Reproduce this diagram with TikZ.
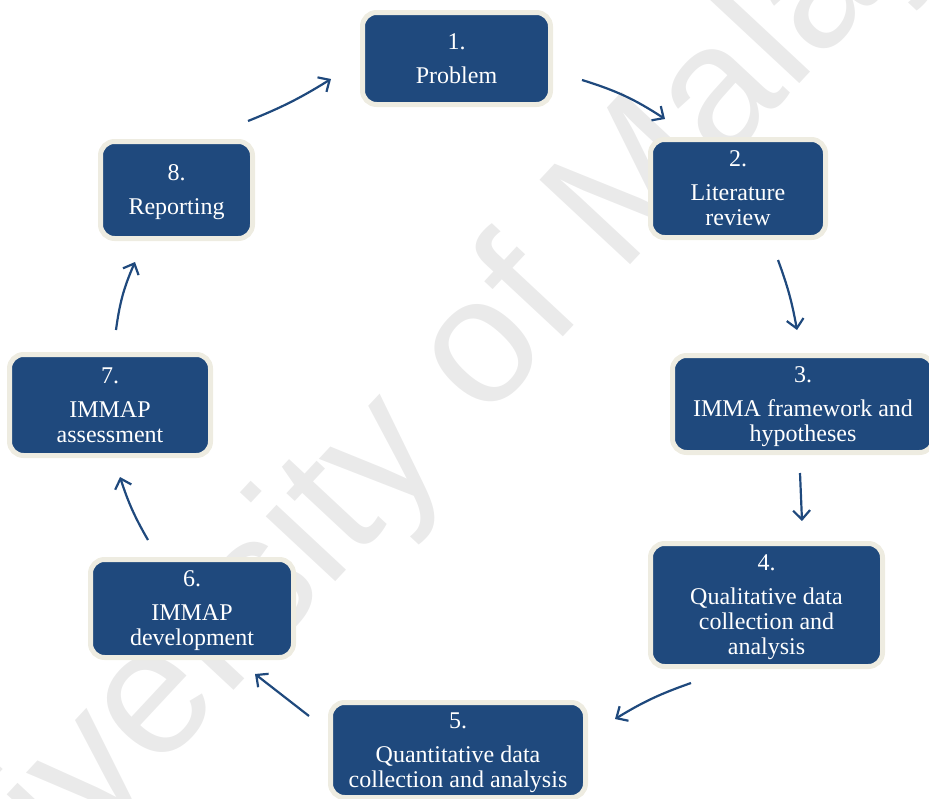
\documentclass[tikz,border=0pt]{standalone}
\usepackage{fontspec}
\setmainfont{Liberation Serif}
\newfontfamily\wmfont{Liberation Sans}
\usetikzlibrary{arrows.meta}
\definecolor{boxblue}{HTML}{1F497D}
\definecolor{boxrim}{HTML}{EEECE1}
\definecolor{wmgray}{HTML}{EAEAEA}
\begin{document}
\begin{tikzpicture}[x=1pt,y=-1pt,
  stage/.style={fill=boxblue, draw=boxrim, line width=5pt, rounded corners=14pt,
    text=white, align=center, inner sep=0pt, text depth=0pt,
    font=\fontsize{24}{25}\selectfont},
  flow/.style={draw=boxblue, line width=2.2pt,
    -{Straight Barb[length=9pt,width=17pt]}}]
\useasboundingbox (0,0) rectangle (929,798);
\clip (0,0) rectangle (929,798);

% watermark
\node[rotate=47, text=wmgray, font=\wmfont\fontsize{180}{180}\selectfont] (wm) at (430,412) {University of Malaya};

% stages
\node[stage, minimum width=188pt, minimum height=92pt]  (s1) at (456.5,58.5) {1.\\[9pt]Problem};
\node[stage, minimum width=175pt, minimum height=98pt]  (s2) at (738,188.5) {2.\\[9pt]Literature\\review};
\node[stage, minimum width=261pt, minimum height=97pt]  (s3) at (803,404)   {3.\\[9pt]IMMA framework and\\hypotheses};
\node[stage, minimum width=232pt, minimum height=123pt] (s4) at (766.5,605) {4.\\[9pt]Qualitative data\\collection and\\analysis};
\node[stage, minimum width=255pt, minimum height=95pt]  (s5) at (458,750)   {5.\\[9pt]Quantitative data\\collection and analysis};
\node[stage, minimum width=203pt, minimum height=98pt]  (s6) at (192,608.5) {6.\\[9pt]IMMAP\\development};
\node[stage, minimum width=201pt, minimum height=101pt] (s7) at (110,405)   {7.\\[9pt]IMMAP\\assessment};
\node[stage, minimum width=152pt, minimum height=97pt]  (s8) at (176.5,190) {8.\\[9pt]Reporting};

% arrow end points
\coordinate (a12s) at (582,80);  \coordinate (a12e) at (665,119);
\coordinate (a23s) at (778,260); \coordinate (a23e) at (797,330);
\coordinate (a34s) at (800,473); \coordinate (a34e) at (802,521);
\coordinate (a45s) at (691,683); \coordinate (a45e) at (615,719);
\coordinate (a56s) at (309,716); \coordinate (a56e) at (255,674);
\coordinate (a67s) at (148,540); \coordinate (a67e) at (120,477);
\coordinate (a78s) at (116,330); \coordinate (a78e) at (135,262);
\coordinate (a81s) at (248,121); \coordinate (a81e) at (331,79);

\draw[flow] (a12s) to[bend left=8]  (a12e);
\draw[flow] (a23s) to[bend left=5]  (a23e);
\draw[flow] (a34s) -- (a34e);
\draw[flow] (a45s) to[bend right=6] (a45e);
\draw[flow] (a56s) -- (a56e);
\draw[flow] (a67s) to[bend left=6]  (a67e);
\draw[flow] (a78s) to[bend left=8]  (a78e);
\draw[flow] (a81s) to[bend right=5] (a81e);
\end{tikzpicture}
\end{document}
